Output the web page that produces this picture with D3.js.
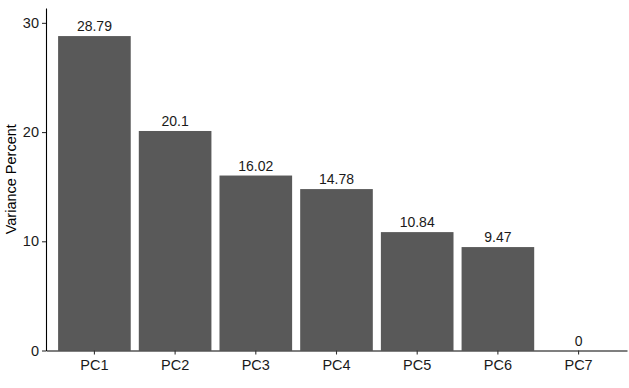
<!DOCTYPE html>
<html lang="en">
<head>
    <meta charset="UTF-8">
    <title>Variance Percent</title>
    <script src="https://d3js.org/d3.v7.min.js"></script>
    <style>
        * { margin: 0; padding: 0; box-sizing: border-box; }
        body { background: white; font-family: "Liberation Sans", Arial, sans-serif; }
    </style>
</head>
<body>
    <div id="chart"></div>
    <script>
        const components = ["PC1", "PC2", "PC3", "PC4", "PC5", "PC6", "PC7"];
        const variance = [28.79, 20.1, 16.02, 14.78, 10.84, 9.47, 0];
        const yTicks = [0, 10, 20, 30];

        const W = 629, H = 388;
        const margin = { top: 8, right: 2, bottom: 37.5, left: 46 };
        const width = W - margin.left - margin.right,
              height = H - margin.top - margin.bottom;

        const svg = d3.select("#chart")
            .append("svg")
            .attr("width", W)
            .attr("height", H)
            .append("g")
            .attr("transform", `translate(${margin.left},${margin.top})`);

        const data = components.map((c, i) => ({ pc: c, value: variance[i] }));

        // ggplot-style discrete expansion: 0.6 of a step on each side
        const x = d3.scaleBand()
            .domain(components)
            .range([0, width])
            .paddingInner(0.1)
            .paddingOuter(0.15);

        const y = d3.scaleLinear()
            .domain([0, 31.36])
            .range([height, 0]);

        svg.selectAll(".bar")
            .data(data)
            .join("rect")
            .attr("class", "bar")
            .attr("x", d => x(d.pc))
            .attr("y", d => y(d.value))
            .attr("width", x.bandwidth())
            .attr("height", d => height - y(d.value))
            .attr("fill", "#595959");

        svg.selectAll(".label")
            .data(data)
            .join("text")
            .attr("class", "label")
            .attr("x", d => x(d.pc) + x.bandwidth() / 2)
            .attr("y", d => y(d.value) - 5)
            .attr("text-anchor", "middle")
            .style("font-size", "14px")
            .style("fill", "#1a1a1a")
            .text(d => d.value);

        const xAxis = svg.append("g")
            .attr("transform", `translate(0,${height})`)
            .call(d3.axisBottom(x).tickSize(4).tickPadding(5).tickSizeOuter(0));
        xAxis.select(".domain").attr("stroke", "#000").attr("stroke-width", 1.1);
        xAxis.selectAll(".tick line").attr("stroke", "#333").attr("stroke-width", 1.1);
        xAxis.selectAll("text")
            .style("font-size", "14.5px")
            .style("font-family", "Liberation Sans, Arial, sans-serif")
            .attr("fill", "#1a1a1a");

        const yAxis = svg.append("g")
            .call(d3.axisLeft(y).tickValues(yTicks).tickSize(4).tickPadding(3).tickSizeOuter(0));
        yAxis.select(".domain").attr("stroke", "#000").attr("stroke-width", 1.1);
        yAxis.selectAll(".tick line").attr("stroke", "#333").attr("stroke-width", 1.1);
        yAxis.selectAll("text")
            .style("font-size", "14.5px")
            .style("font-family", "Liberation Sans, Arial, sans-serif")
            .attr("fill", "#1a1a1a");

        svg.append("text")
            .attr("transform", "rotate(-90)")
            .attr("x", -height / 2)
            .attr("y", -30)
            .attr("text-anchor", "middle")
            .style("font-size", "14.5px")
            .style("fill", "#000")
            .text("Variance Percent");
    </script>
</body>
</html>
